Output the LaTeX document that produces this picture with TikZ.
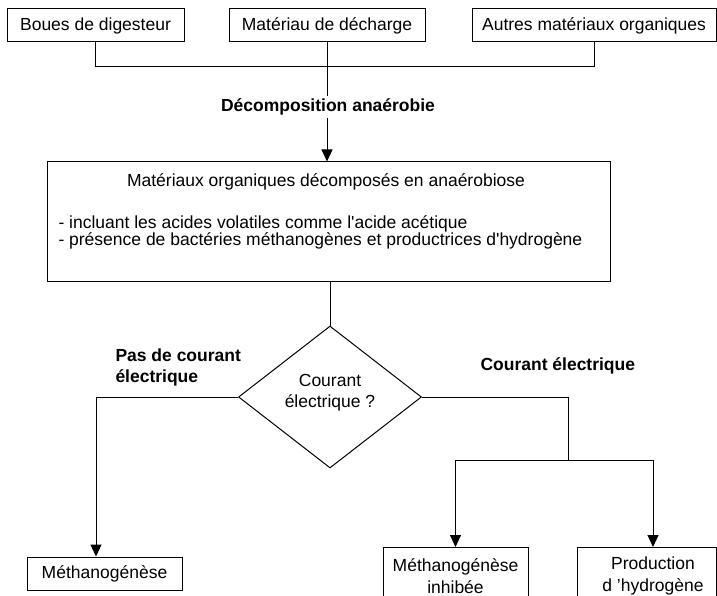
\documentclass[tikz,border=0pt]{standalone}
\usepackage{fontspec}
\setmainfont{Liberation Sans}[Ligatures=TeXOff]
\usetikzlibrary{shapes.geometric,arrows.meta}
\begin{document}
\begin{tikzpicture}[x=1pt,y=-1pt, line width=1pt,
  box/.style={draw, rectangle, inner sep=0pt, font=\fontsize{17.5}{21}\selectfont},
  txt/.style={inner sep=0pt, font=\fontsize{17.5}{21}\selectfont},
  txtw/.style={inner sep=0pt, font=\fontsize{17.5}{22}\selectfont},
  btxt/.style={inner sep=0pt, font=\fontsize{17.5}{21}\selectfont\bfseries},
  arr/.style={-{Triangle[length=12pt,width=11pt]}}]
\useasboundingbox (0,0) rectangle (717,596);
\clip (0,0) rectangle (717,596);
% top boxes
\node[box, minimum width=177pt, minimum height=33pt] (b1) at (95.5,25.5) {Boues de digesteur};
\node[box, minimum width=196pt, minimum height=33pt] (b2) at (327,25.5) {Matériau de décharge};
\node[box, minimum width=244pt, minimum height=33pt] (b3) at (594,25.5) {Autres matériaux organiques};
% main box
\node[box, minimum width=563pt, minimum height=119pt] (main) at (328.5,221.5) {};
\node[txt, anchor=base] (mt) at (326,186) {Matériaux organiques décomposés en anaérobiose};
\node[txt, anchor=base west] (ml1) at (58,229) {- incluant les acides volatiles comme l'acide acétique};
\node[txt, anchor=base west] (ml2) at (58,245) {- présence de bactéries méthanogènes et productrices d'hydrogène};
% diamond
\node[draw, diamond, minimum width=183pt, minimum height=142pt, inner sep=0pt] (d) at (330,397) {};
\node[txt, align=center] (dq) at (330,393) {Courant\\électrique ?};
% branch labels
\node[btxt, align=left, anchor=west] (lno) at (115,367.5) {Pas de courant\\électrique};
\node[btxt, anchor=west] (lyes) at (480,366) {Courant électrique};
% bottom boxes
\node[box, minimum width=155pt, minimum height=33pt] (m1) at (104.5,573.5) {Méthanogénèse};
\node[box, minimum width=145pt, minimum height=70pt, anchor=north] (m2) at (455.5,547) {};
\node[txtw, align=center] (m2t) at (455.5,576) {Méthanogénèse\\inhibée};
\node[box, minimum width=139pt, minimum height=70pt, anchor=north] (m3) at (646.5,547) {};
\node[txtw, align=center] (m3t) at (653,576) {Production\\d ’hydrogène};
% connectors
\coordinate (hy) at (0,67);
\draw (b1.south) -- (b1.south |- hy) -- (b3.south |- hy) -- (b3.south);
\draw[arr] (b2.south) -- (b2.south |- main.north);
\node[btxt, fill=white, inner xsep=3pt, inner ysep=3pt, text height=12.6pt, text depth=3.7pt] (dec) at (328,107) {Décomposition anaérobie};
\draw (d.north |- main.south) -- (d.north);
\coordinate (lx) at (96,0);
\draw[arr] (d.west) -| (lx |- m1.north);
\coordinate (rj) at (568,460);
\draw (d.east) -| (rj);
\draw[arr] (rj) -| (m2.north);
\coordinate (px) at (653,0);
\draw[arr] (rj) -| (px |- m3.north);
\end{tikzpicture}
\end{document}
